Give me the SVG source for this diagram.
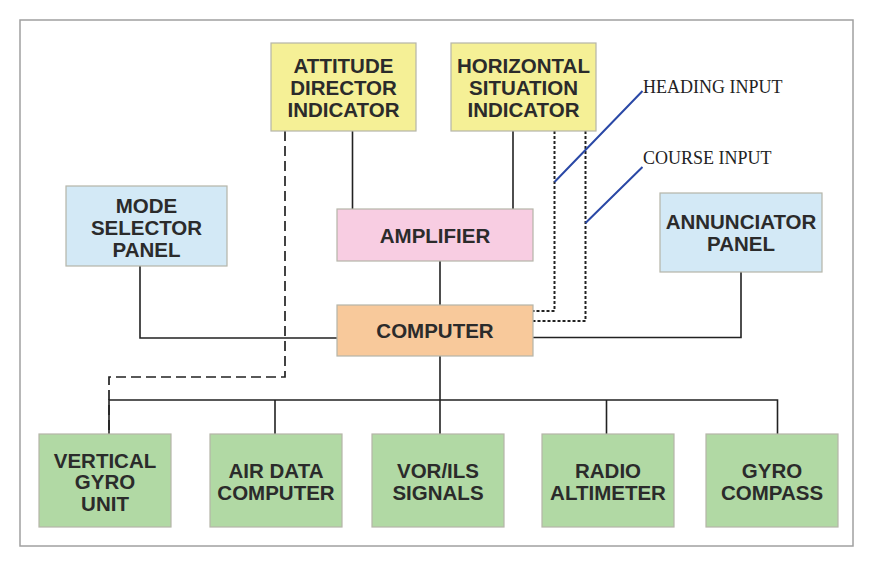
<svg xmlns="http://www.w3.org/2000/svg" width="873" height="567" viewBox="0 0 873 567">
<style>
.box{stroke:#b5b5a8;stroke-width:1.2}
.y{fill:#f5f096}.b{fill:#d3e9f6}.p{fill:#f8cde2}.o{fill:#f8c99b}.g{fill:#b1d9a4}
.t{font-family:"Liberation Sans",Arial,sans-serif;font-weight:bold;font-size:20.5px;fill:#2b2b2b;text-anchor:middle}
.lbl{font-family:"Liberation Serif","Times New Roman",serif;font-size:18px;fill:#222}
.s{fill:none;stroke:#222;stroke-width:1.6}
.d{fill:none;stroke:#222;stroke-width:1.7;stroke-dasharray:10 5}
.dt{fill:none;stroke:#222;stroke-width:2;stroke-dasharray:3 2}
.bl{fill:none;stroke:#2a48a6;stroke-width:2}
</style>
<rect x="20" y="20" width="833" height="526" fill="#fff" stroke="#a0a0a0" stroke-width="1.5"/>
<g id="connectors">
<path class="s" d="M352.5 131V209M513 131V209M440 261V305M140 266V338H337M741 272V337.5H533M440 356V434M109 434V400H777.5V434M275 400V434M606.5 400V434"/>
<path class="d" d="M285 131V377H109V434"/>
<path class="dt" d="M554.5 131V311H533M585.5 131V321H533"/>
<path class="bl" d="M554.5 182L642.5 91M585.5 223L642.5 167"/>
</g>
<g id="adi"><rect class="box y" x="271" y="43" width="145" height="88"/><text class="t" x="343.5" y="72.5">ATTITUDE</text><text class="t" x="343.5" y="94.5">DIRECTOR</text><text class="t" x="343.5" y="116.5">INDICATOR</text></g>
<g id="hsi"><rect class="box y" x="451" y="43" width="145" height="88"/><text class="t" x="523.5" y="72.5">HORIZONTAL</text><text class="t" x="523.5" y="94.5">SITUATION</text><text class="t" x="523.5" y="116.5">INDICATOR</text></g>
<g id="heading"><text class="lbl" x="643" y="93">HEADING INPUT</text></g>
<g id="course"><text class="lbl" x="643" y="164">COURSE INPUT</text></g>
<g id="msp"><rect class="box b" x="66" y="186" width="161" height="80"/><text class="t" x="146.5" y="212.5">MODE</text><text class="t" x="146.5" y="234.5">SELECTOR</text><text class="t" x="146.5" y="256.5">PANEL</text></g>
<g id="amp"><rect class="box p" x="337" y="209" width="196" height="52"/><text class="t" x="435" y="242.5">AMPLIFIER</text></g>
<g id="ann"><rect class="box b" x="660" y="193" width="162" height="79"/><text class="t" x="741" y="228.5">ANNUNCIATOR</text><text class="t" x="741" y="251">PANEL</text></g>
<g id="comp"><rect class="box o" x="337" y="305" width="196" height="51"/><text class="t" x="435" y="338">COMPUTER</text></g>
<g id="vgu"><rect class="box g" x="39" y="434" width="132" height="93"/><text class="t" x="105" y="467.5">VERTICAL</text><text class="t" x="105" y="489">GYRO</text><text class="t" x="105" y="510.5">UNIT</text></g>
<g id="adc"><rect class="box g" x="210" y="434" width="132" height="93"/><text class="t" x="276" y="478">AIR DATA</text><text class="t" x="276" y="499.5">COMPUTER</text></g>
<g id="vor"><rect class="box g" x="372" y="434" width="132" height="93"/><text class="t" x="438" y="478">VOR/ILS</text><text class="t" x="438" y="499.5">SIGNALS</text></g>
<g id="radalt"><rect class="box g" x="542" y="434" width="132" height="93"/><text class="t" x="608" y="478">RADIO</text><text class="t" x="608" y="499.5">ALTIMETER</text></g>
<g id="gyrocomp"><rect class="box g" x="706" y="434" width="132" height="93"/><text class="t" x="772" y="478">GYRO</text><text class="t" x="772" y="499.5">COMPASS</text></g>
</svg>
